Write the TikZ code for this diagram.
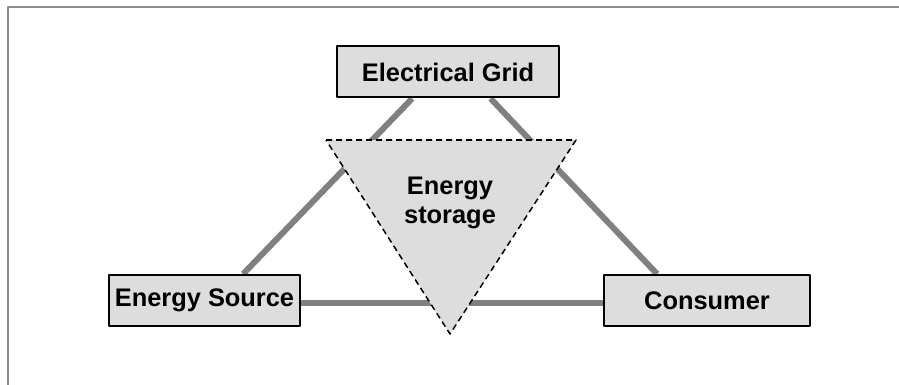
\documentclass[tikz,border=0pt]{standalone}
\usepackage{fontspec}
\setmainfont{Liberation Sans}
\usetikzlibrary{calc,backgrounds}
\definecolor{boxgray}{HTML}{DDDDDD}
\definecolor{linkgray}{HTML}{808080}
\begin{document}
\begin{tikzpicture}[x=0.5pt, y=-0.5pt, line join=round,
	font=\fontsize{12.7}{14.5}\selectfont\bfseries,
	unit/.style={draw=black, line width=1pt, fill=boxgray, inner sep=0pt, minimum height=25.5pt},
	link/.style={draw=linkgray, line width=3pt},
	frame/.style={draw=linkgray!90, line width=1pt}]
	\useasboundingbox (0,0) rectangle (899,385);
	\draw[frame] (8,385)--(8,7)--(899,7);
	\node[unit, minimum width=111pt] (grid) at (448,72) {Electrical Grid};
	\node[unit, minimum width=95.5pt] (source) at (204.5,300.5) {Energy Source};
	\node[unit, minimum width=103pt] (consumer) at (707,300.5) {Consumer};
	% links sit under the boxes
	\begin{pgfonlayer}{background}
	\draw[link] ($(grid.south west)!0.34!(grid.south east)$)--($(source.north west)!0.70!(source.north east)$);
	\draw[link] ($(grid.south west)!0.69!(grid.south east)$)--($(consumer.north west)!0.26!(consumer.north east)$);
	\draw[link] ([yshift=-1.25pt]source.east)--([yshift=-1.25pt]consumer.west);
	\end{pgfonlayer}
	\coordinate (tl) at (326,140); \coordinate (tr) at (576,140); \coordinate (tb) at (450,334);
	\draw[fill=boxgray, line width=0.75pt, dash pattern=on 3pt off 2pt] (tl)--(tr)--(tb)--cycle;
	\node[align=center] (storage) at (450,203) {Energy\\storage};
\end{tikzpicture}
\end{document}
